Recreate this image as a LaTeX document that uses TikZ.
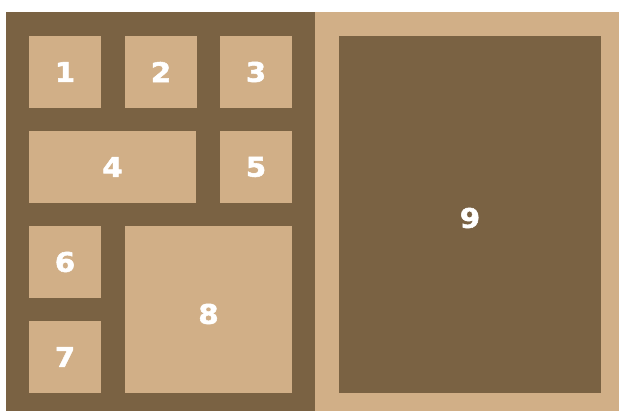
\documentclass[tikz,border=0pt]{standalone}
\usepackage{fontspec}
\setmainfont{DejaVu Sans}
\newfontfamily\digfont[FakeBold=2,FakeStretch=1.08]{DejaVu Sans Bold}
\definecolor{darkb}{HTML}{7A6243}
\definecolor{lightb}{HTML}{D1AF87}
\begin{document}
\begin{tikzpicture}[x=1pt,y=-1pt,
  cell/.style={fill=lightb,draw=none},
  lbl/.style={text=white,font=\fontsize{27}{27}\selectfont\digfont,inner sep=0pt}]
\useasboundingbox[fill=white] (0,0) rectangle (619,411);
\fill[darkb] (6,12) rectangle (315,411);
\fill[lightb] (315,12) rectangle (619,411);
\fill[darkb] (339,36) rectangle (601,393);
\fill[cell] (29,36) rectangle (101,108);
\fill[cell] (125,36) rectangle (197,108);
\fill[cell] (220,36) rectangle (292,108);
\fill[cell] (29,131) rectangle (196,203);
\fill[cell] (220,131) rectangle (292,203);
\fill[cell] (29,226) rectangle (101,298);
\fill[cell] (29,321) rectangle (101,393);
\fill[cell] (125,226) rectangle (292,393);
\node[lbl] (n1) at (65,72) {1};
\node[lbl] (n2) at (161,72) {2};
\node[lbl] (n3) at (256,72) {3};
\node[lbl] (n4) at (112.5,167) {4};
\node[lbl] (n5) at (256,167) {5};
\node[lbl] (n6) at (65,262) {6};
\node[lbl] (n7) at (65,357) {7};
\node[lbl] (n8) at (208.5,314) {8};
\node[lbl] (n9) at (470,218) {9};
\end{tikzpicture}
\end{document}
